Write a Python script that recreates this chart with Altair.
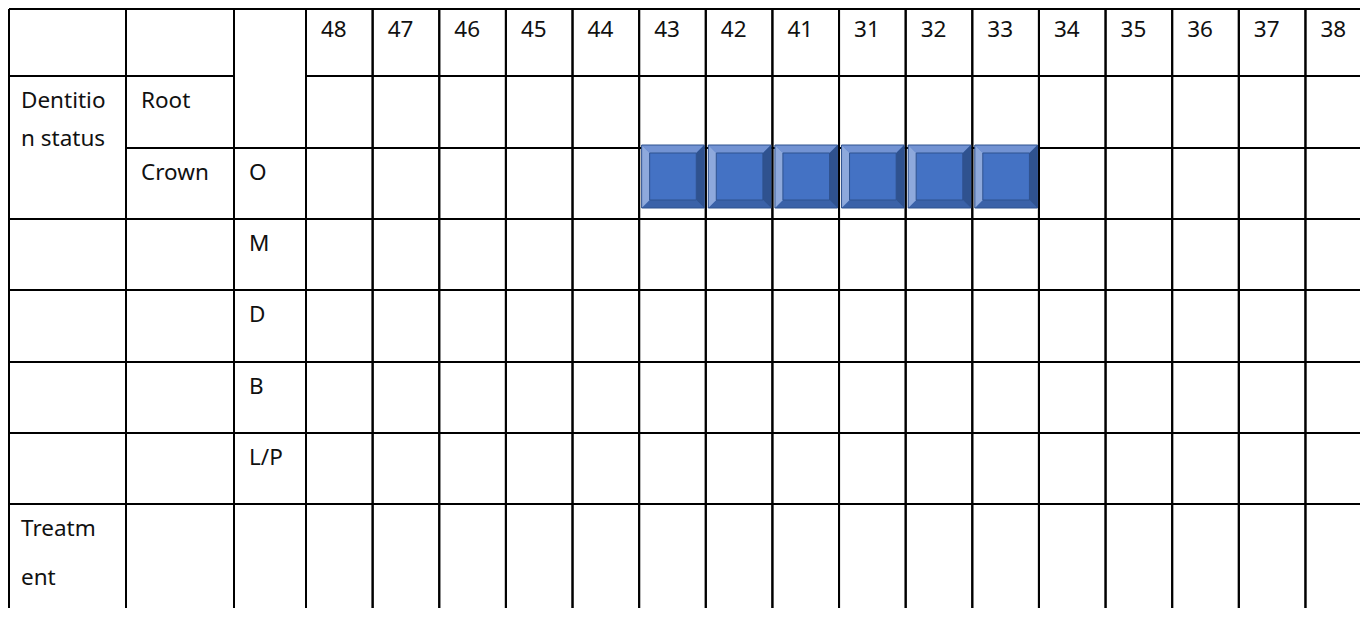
import altair as alt
import pandas as pd

# ---------------- data ----------------
teeth = ["48", "47", "46", "45", "44", "43", "42", "41",
         "31", "32", "33", "34", "35", "36", "37", "38"]
group_labels = ["Dentitio\nn status", "Treatm\nent"]
part_labels = ["Root", "Crown"]
surface_labels = ["O", "M", "D", "B", "L/P"]
marked_teeth = ["43", "42", "41", "31", "32", "33"]   # shaded cells in the O row

# ---------------- layout (reference pixel units) ----------------
X0, Y0 = 6, 5
fixed_w = [120, 108, 72]
tooth_w = 66.63
row_h = [71, 72, 71, 71, 72, 71, 71, 144]
FONT = "Noto Sans"
FS = 22.5

col_edges = [X0]
for w in fixed_w:
    col_edges.append(col_edges[-1] + w)
for _ in teeth:
    col_edges.append(col_edges[-1] + tooth_w)
row_edges = [Y0]
for h in row_h:
    row_edges.append(row_edges[-1] + h)

cells = []  # (c0, c1, r0, r1, text, spacing)
nT = len(teeth)
cells += [(0, 1, 0, 1, "", 0), (1, 2, 0, 1, "", 0), (2, 3, 0, 2, "", 0)]
cells += [(3 + i, 4 + i, 0, 1, t, 0) for i, t in enumerate(teeth)]
cells += [(0, 1, 1, 3, group_labels[0], 38), (1, 2, 1, 2, part_labels[0], 0)]
cells += [(3 + i, 4 + i, 1, 2, "", 0) for i in range(nT)]
for k, s in enumerate(surface_labels):
    r = 2 + k
    if k == 0:
        cells += [(1, 2, r, r + 1, part_labels[1], 0)]
    else:
        cells += [(0, 1, r, r + 1, "", 0), (1, 2, r, r + 1, "", 0)]
    cells += [(2, 3, r, r + 1, s, 0)]
    cells += [(3 + i, 4 + i, r, r + 1, "", 0) for i in range(nT)]
cells += [(0, 1, 7, 8, group_labels[1], 49), (1, 2, 7, 8, "", 0), (2, 3, 7, 8, "", 0)]
cells += [(3 + i, 4 + i, 7, 8, "", 0) for i in range(nT)]

grid_rows, text_rows = [], []
for c0, c1, r0, r1, txt, sp in cells:
    grid_rows.append(dict(x=col_edges[c0], x2=col_edges[c1],
                          y=row_edges[r0], y2=row_edges[r1]))
    if txt:
        for i, line in enumerate(txt.split("\n")):
            text_rows.append(dict(x=col_edges[c0] + 15,
                                  y=row_edges[r0] + 31.5 + i * sp, t=line))
grid_df = pd.DataFrame(grid_rows)
text_df = pd.DataFrame(text_rows)

# bevelled squares
B = 8
face, area_v, area_h = [], [], []
LIGHT_T, LIGHT_L, DARK_B, DARK_R = "#7393D3", "#8EA9DC", "#3B62A8", "#2F528F"
for tooth in marked_teeth:
    c = 3 + teeth.index(tooth)
    x0, x1 = col_edges[c] + 2.5, col_edges[c + 1] - 1.5
    y0 = row_edges[2] - 3
    y1 = y0 + 63
    face.append(dict(x=x0, x2=x1, y=y0, y2=y1, k=tooth))
    for xx, yy, yy2 in [(x0, y0, y0), (x0 + B, y0, y0 + B), (x1 - B, y0, y0 + B), (x1, y0, y0)]:
        area_v.append(dict(k=tooth + "t", f=LIGHT_T, x=xx, y=yy, y2=yy2))
    for xx, yy, yy2 in [(x0, y1, y1), (x0 + B, y1 - B, y1), (x1 - B, y1 - B, y1), (x1, y1, y1)]:
        area_v.append(dict(k=tooth + "b", f=DARK_B, x=xx, y=yy, y2=yy2))
    for yy, xx, xx2 in [(y0, x0, x0), (y0 + B, x0, x0 + B), (y1 - B, x0, x0 + B), (y1, x0, x0)]:
        area_h.append(dict(k=tooth + "l", f=LIGHT_L, y=yy, x=xx, x2=xx2))
    for yy, xx, xx2 in [(y0, x1, x1), (y0 + B, x1 - B, x1), (y1 - B, x1 - B, x1), (y1, x1, x1)]:
        area_h.append(dict(k=tooth + "r", f=DARK_R, y=yy, x=xx, x2=xx2))
face_df = pd.DataFrame(face)
inner_df = face_df.assign(x=face_df.x + B, x2=face_df.x2 - B, y=face_df.y + B, y2=face_df.y2 - B)
av_df = pd.DataFrame(area_v)
ah_df = pd.DataFrame(area_h)

# page origin is at (8, 8): use that as the domain start so interior lines sit 1:1
W, H = 1352, 600
DX0, DY0 = 8, 8
xs = alt.Scale(domain=[DX0, DX0 + W], nice=False, zero=False)
ys = alt.Scale(domain=[DY0, DY0 + H], nice=False, zero=False, reverse=True)

# outer left / top frame pulled inside the visible area
frame_df = pd.DataFrame([
    dict(x=DX0 + 1, x2=DX0 + 1, y=DY0 + 1, y2=row_edges[-1]),
    dict(x=DX0 + 1, x2=col_edges[-1], y=DY0 + 1, y2=DY0 + 1),
])


def X(f="x"):
    return alt.X(f + ":Q", scale=xs, axis=None)


def Y(f="y"):
    return alt.Y(f + ":Q", scale=ys, axis=None)


grid = alt.Chart(grid_df).mark_rect(filled=False, stroke="black", strokeWidth=2, clip=True).encode(
    x=X(), x2="x2:Q", y=Y(), y2="y2:Q")
frame = alt.Chart(frame_df).mark_rule(color="black", strokeWidth=2, clip=True).encode(
    x=X(), x2="x2:Q", y=Y(), y2="y2:Q")

sq_base = alt.Chart(face_df).mark_rect(color="#4472C4").encode(x=X(), x2="x2:Q", y=Y(), y2="y2:Q")
bev_v = alt.Chart(av_df).mark_area(orient="vertical").encode(
    x=X(), y=alt.Y("y:Q", scale=ys, axis=None, stack=None), y2="y2:Q",
    color=alt.Color("f:N", scale=None), detail="k:N")
bev_h = alt.Chart(ah_df).mark_area(orient="horizontal").encode(
    y=Y(), x=alt.X("x:Q", scale=xs, axis=None, stack=None), x2="x2:Q",
    color=alt.Color("f:N", scale=None), detail="k:N")
inner = alt.Chart(inner_df).mark_rect(filled=False, stroke="#2F528F", strokeWidth=1).encode(
    x=X(), x2="x2:Q", y=Y(), y2="y2:Q")
outline = alt.Chart(face_df).mark_rect(filled=False, stroke="#2F528F", strokeWidth=1).encode(
    x=X(), x2="x2:Q", y=Y(), y2="y2:Q")

texts = alt.Chart(text_df).mark_text(align="left", baseline="alphabetic", font=FONT,
                                     fontSize=FS, color="#111111").encode(
    x=X(), y=Y(), text="t:N")

chart = alt.layer(grid, frame, sq_base, bev_v, bev_h, inner, outline, texts).properties(
    width=W, height=H, padding=0, autosize=alt.AutoSizeParams(type="none"),
    background="white"
).configure_view(stroke=None)

chart.save("out.html", embed_options={"renderer": "svg", "actions": False})
